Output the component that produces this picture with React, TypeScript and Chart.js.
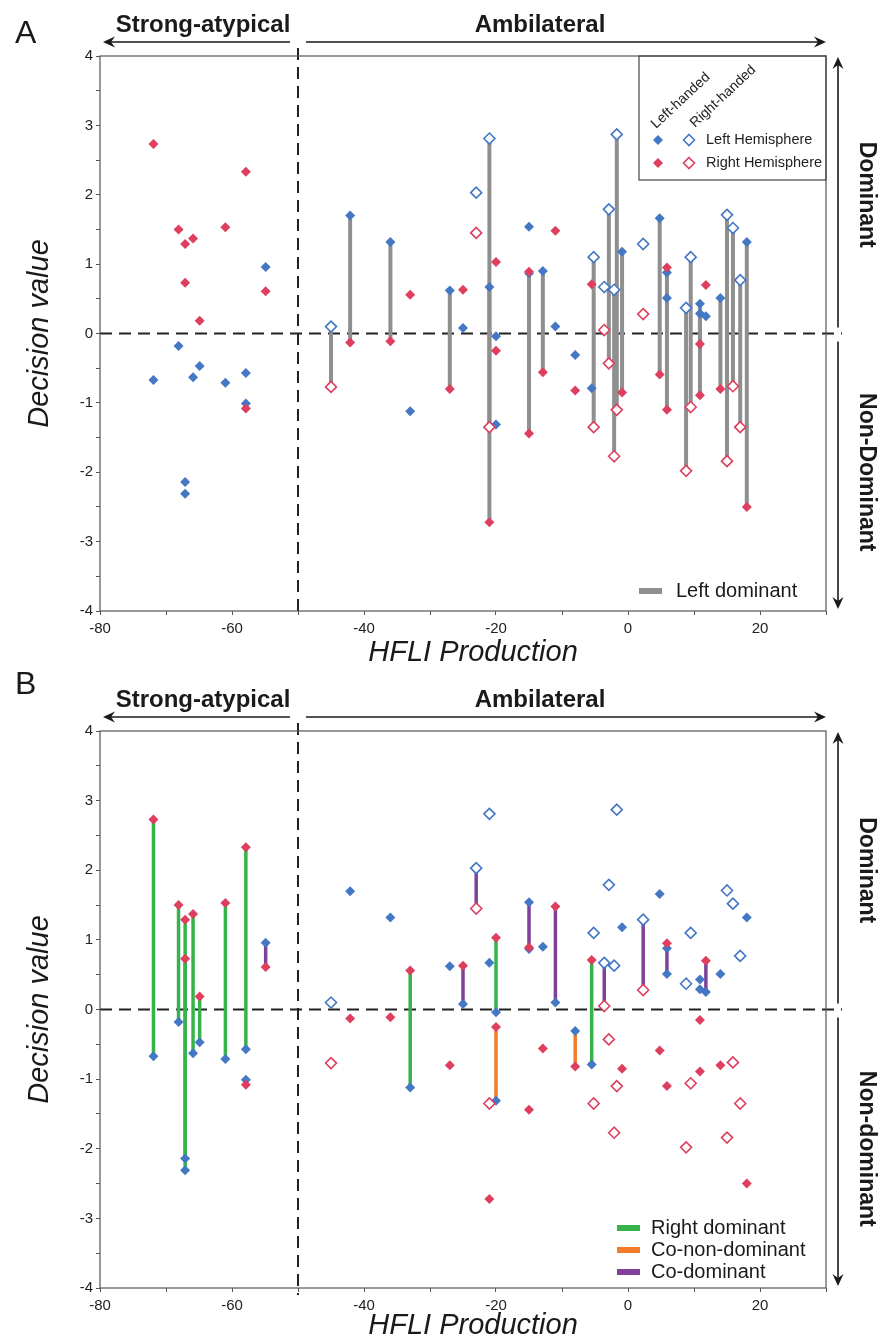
import React, { useEffect, useRef } from 'react';
import { Chart, registerables } from 'chart.js';

Chart.register(...registerables);

// ---- axis settings ----
const X_MIN = -80;
const X_MAX = 30;
const X_STEP = 10;
const X_LABEL_EVERY = 20;
const Y_MIN = -4;
const Y_MAX = 4;
const Y_STEP = 0.5;
const DIVIDE_X = -50;

// ---- left-handed subjects (filled markers): HFLI, left-hemisphere value, right-hemisphere value ----
const lhX = [-71.9, -68.1, -67.1, -67.1, -65.9, -64.9, -61.0, -57.9, -57.9, -54.9, -42.1, -36.0, -33.0, -27.0, -25.0, -21.0, -20.0, -20.0, -15.0, -15.0, -12.9, -11.0, -8.0, -5.5, -0.9, 4.8, 5.9, 5.9, 10.9, 10.9, 11.8, 14.0, 18.0];
const lhLeft = [-0.67, -0.18, -2.14, -2.31, -0.63, -0.47, -0.71, -0.57, -1.01, 0.96, 1.70, 1.32, -1.12, 0.62, 0.08, 0.67, -0.04, -1.31, 1.54, 0.87, 0.90, 0.10, -0.31, -0.79, 1.18, 1.66, 0.51, 0.88, 0.43, 0.29, 0.25, 0.51, 1.32];
const lhRight = [2.73, 1.50, 0.73, 1.29, 1.37, 0.185, 1.53, 2.33, -1.08, 0.61, -0.13, -0.11, 0.56, -0.80, 0.63, -2.72, 1.03, -0.25, 0.89, -1.44, -0.56, 1.48, -0.82, 0.71, -0.85, -0.59, 0.95, -1.10, -0.89, -0.15, 0.70, -0.80, -2.50];

// ---- right-handed subjects (open markers) ----
const rhX = [-45.0, -23.0, -21.0, -5.2, -3.6, -2.9, -2.1, -1.7, 2.3, 8.8, 9.5, 15.0, 15.9, 17.0];
const rhLeft = [0.10, 2.03, 2.81, 1.10, 0.67, 1.79, 0.63, 2.87, 1.29, 0.37, 1.10, 1.71, 1.52, 0.77];
const rhRight = [-0.77, 1.45, -1.35, -1.35, 0.05, -0.43, -1.77, -1.10, 0.28, -1.98, -1.06, -1.84, -0.76, -1.35];

const FONT = "'Liberation Sans', Arial, Helvetica, sans-serif";
const BLUE = '#4477c4';
const RED = '#de3f5f';
const GRAY = '#8f8f8f';
const GREEN = '#36b34a';
const ORANGE = '#f27b2c';
const PURPLE = '#7f4299';
const INK = '#1a1a1a';

type Cat = 'LD' | 'RD' | 'CD' | 'CND';
function classify(l: number, r: number): Cat {
  if (l > 0 && r < 0) return 'LD';
  if (l < 0 && r > 0) return 'RD';
  if (l > 0 && r > 0) return 'CD';
  return 'CND';
}

interface PanelCfg {
  letter: string;
  letterBaseline: number;
  height: number;
  top: number;
  bottom: number;
  lineColors: Partial<Record<Cat, string>>;
  lineWidth: number;
  upper: string;
  lower: string;
  titleBaseline: number;
  legend: 'A' | 'B';
}

const PANEL_A: PanelCfg = {
  letter: 'A', letterBaseline: 43, height: 670, top: 56, bottom: 611,
  lineColors: { LD: GRAY }, lineWidth: 4,
  upper: 'Dominant', lower: 'Non-Dominant', titleBaseline: 661, legend: 'A',
};
const PANEL_B: PanelCfg = {
  letter: 'B', letterBaseline: 24, height: 669, top: 61, bottom: 618,
  lineColors: { RD: GREEN, CND: ORANGE, CD: PURPLE }, lineWidth: 3.5,
  upper: 'Dominant', lower: 'Non-dominant', titleBaseline: 664, legend: 'B',
};

function arrow(ctx: CanvasRenderingContext2D, x1: number, y1: number, x2: number, y2: number) {
  const ang = Math.atan2(y2 - y1, x2 - x1);
  const L = 12, W = 5.5, N = 8;
  const c = Math.cos(ang), s = Math.sin(ang);
  ctx.beginPath();
  ctx.moveTo(x1, y1);
  ctx.lineTo(x2 - N * c, y2 - N * s);
  ctx.stroke();
  ctx.beginPath();
  ctx.moveTo(x2, y2);
  ctx.lineTo(x2 - L * c - W * s, y2 - L * s + W * c);
  ctx.lineTo(x2 - N * c, y2 - N * s);
  ctx.lineTo(x2 - L * c + W * s, y2 - L * s - W * c);
  ctx.closePath();
  ctx.fill();
}

function diamond(ctx: CanvasRenderingContext2D, x: number, y: number, r: number, color: string, open: boolean) {
  ctx.beginPath();
  ctx.moveTo(x, y - r);
  ctx.lineTo(x + r, y);
  ctx.lineTo(x, y + r);
  ctx.lineTo(x - r, y);
  ctx.closePath();
  if (open) {
    ctx.fillStyle = '#fff';
    ctx.fill();
    ctx.lineWidth = 1.6;
    ctx.strokeStyle = color;
    ctx.stroke();
  } else {
    ctx.fillStyle = color;
    ctx.fill();
  }
}

function decorPlugin(cfg: PanelCfg) {
  return {
    id: 'decor',
    beforeDatasetsDraw(chart: any) {
      const { ctx, chartArea: a, scales } = chart;
      const xd = scales.x.getPixelForValue(DIVIDE_X);
      const y0 = scales.y.getPixelForValue(0);
      ctx.save();
      ctx.strokeStyle = '#222';
      ctx.lineWidth = 2;
      ctx.setLineDash([12, 7]);
      ctx.beginPath();
      ctx.moveTo(a.left, y0);
      ctx.lineTo(a.right + 16, y0);
      ctx.stroke();
      ctx.beginPath();
      ctx.moveTo(xd, a.top - 8);
      ctx.lineTo(xd, a.bottom + 7);
      ctx.stroke();
      ctx.restore();
    },
    afterDraw(chart: any) {
      const { ctx, chartArea: a, scales } = chart;
      const xd = scales.x.getPixelForValue(DIVIDE_X);
      const y0 = scales.y.getPixelForValue(0);
      ctx.save();
      // plot frame
      ctx.strokeStyle = '#555';
      ctx.lineWidth = 1.2;
      ctx.strokeRect(a.left, a.top, a.right - a.left, a.bottom - a.top);

      // top arrows
      ctx.strokeStyle = INK;
      ctx.fillStyle = INK;
      ctx.lineWidth = 1.6;
      const ay = a.top - 14;
      arrow(ctx, xd - 8, ay, a.left + 3, ay);
      arrow(ctx, xd + 8, ay, a.right, ay);
      ctx.font = `bold 24px ${FONT}`;
      ctx.textAlign = 'center';
      ctx.textBaseline = 'alphabetic';
      ctx.fillText('Strong-atypical', (a.left + xd) / 2 + 4, a.top - 24);
      ctx.fillText('Ambilateral', 540, a.top - 24);

      // right arrows
      const rx = a.right + 12;
      arrow(ctx, rx, y0 - 6, rx, a.top + 1);
      arrow(ctx, rx, y0 + 8, rx, a.bottom - 2);
      ctx.font = `bold 23px ${FONT}`;
      const drawRot = (t: string, cy: number) => {
        ctx.save();
        ctx.translate(860, cy);
        ctx.rotate(Math.PI / 2);
        ctx.textAlign = 'center';
        ctx.textBaseline = 'alphabetic';
        ctx.fillText(t, 0, 0);
        ctx.restore();
      };
      drawRot(cfg.upper, (a.top + y0) / 2);
      drawRot(cfg.lower, (y0 + a.bottom) / 2);

      // panel letter
      ctx.font = `32px ${FONT}`;
      ctx.textAlign = 'left';
      ctx.fillText(cfg.letter, 15, cfg.letterBaseline);

      // axis titles
      ctx.font = `italic 29px ${FONT}`;
      ctx.textAlign = 'center';
      ctx.fillText('HFLI Production', 473, cfg.titleBaseline);
      ctx.save();
      ctx.translate(40, (a.top + a.bottom) / 2);
      ctx.rotate(-Math.PI / 2);
      ctx.textBaseline = 'middle';
      ctx.fillText('Decision value', 0, 0);
      ctx.restore();

      // legends
      if (cfg.legend === 'A') {
        ctx.strokeStyle = '#444';
        ctx.lineWidth = 1.2;
        ctx.strokeRect(639, a.top, a.right - 639, 180 - a.top);
        ctx.fillStyle = '#222';
        ctx.font = `14px ${FONT}`;
        ctx.textAlign = 'left';
        ctx.textBaseline = 'alphabetic';
        const rotLabel = (t: string, x: number, y: number) => {
          ctx.save();
          ctx.translate(x, y);
          ctx.rotate(-43 * Math.PI / 180);
          ctx.fillText(t, 0, 0);
          ctx.restore();
        };
        rotLabel('Left-handed', 656, 129);
        rotLabel('Right-handed', 695, 128);
        diamond(ctx, 658, 140, 5, BLUE, false);
        diamond(ctx, 689, 140, 5.5, BLUE, true);
        diamond(ctx, 658, 163, 5, RED, false);
        diamond(ctx, 689, 163, 5.5, RED, true);
        ctx.fillStyle = '#222';
        ctx.font = `14.5px ${FONT}`;
        ctx.textBaseline = 'middle';
        ctx.fillText('Left Hemisphere', 706, 140);
        ctx.fillText('Right Hemisphere', 706, 163);

        ctx.strokeStyle = GRAY;
        ctx.lineWidth = 6;
        ctx.beginPath();
        ctx.moveTo(639, 591);
        ctx.lineTo(662, 591);
        ctx.stroke();
        ctx.font = `20px ${FONT}`;
        ctx.fillStyle = INK;
        ctx.fillText('Left dominant', 676, 591);
      } else {
        const items: [string, string][] = [
          ['Right dominant', GREEN],
          ['Co-non-dominant', ORANGE],
          ['Co-dominant', PURPLE],
        ];
        ctx.font = `20px ${FONT}`;
        ctx.textAlign = 'left';
        ctx.textBaseline = 'middle';
        items.forEach(([t, c], i) => {
          const yy = 558 + i * 22;
          ctx.strokeStyle = c;
          ctx.lineWidth = 6;
          ctx.beginPath();
          ctx.moveTo(617, yy);
          ctx.lineTo(640, yy);
          ctx.stroke();
          ctx.fillStyle = INK;
          ctx.fillText(t, 651, yy);
        });
      }
      ctx.restore();
    },
  };
}

function buildConfig(cfg: PanelCfg): any {
  const lineSets: any[] = [];
  const addSegs = (xs: number[], ls: number[], rs: number[]) => {
    xs.forEach((x, i) => {
      const color = cfg.lineColors[classify(ls[i], rs[i])];
      if (!color) return;
      lineSets.push({
        data: [{ x, y: ls[i] }, { x, y: rs[i] }],
        showLine: true,
        borderColor: color,
        borderWidth: cfg.lineWidth,
        borderCapStyle: 'butt',
        pointRadius: 0,
        order: 10,
      });
    });
  };
  addSegs(lhX, lhLeft, lhRight);
  addSegs(rhX, rhLeft, rhRight);
  const pts = (xs: number[], ys: number[]) => xs.map((x, i) => ({ x, y: ys[i] }));
  const datasets = [
    ...lineSets,
    { label: 'LH left', data: pts(lhX, lhLeft), pointStyle: 'rectRot', pointRadius: 5, backgroundColor: BLUE, borderColor: BLUE, borderWidth: 0, order: 4 },
    { label: 'LH right', data: pts(lhX, lhRight), pointStyle: 'rectRot', pointRadius: 5, backgroundColor: RED, borderColor: RED, borderWidth: 0, order: 3 },
    { label: 'RH left', data: pts(rhX, rhLeft), pointStyle: 'rectRot', pointRadius: 5.5, backgroundColor: '#ffffff', borderColor: BLUE, borderWidth: 1.6, order: 2 },
    { label: 'RH right', data: pts(rhX, rhRight), pointStyle: 'rectRot', pointRadius: 5.5, backgroundColor: '#ffffff', borderColor: RED, borderWidth: 1.6, order: 1 },
  ];
  const tickFont = { family: FONT, size: 15 };
  const grid = { display: true, drawOnChartArea: false, drawTicks: true, tickLength: 4, color: '#555', lineWidth: 1 };
  return {
    type: 'scatter',
    data: { datasets },
    options: {
      animation: false,
      responsive: false,
      devicePixelRatio: 1,
      events: [],
      layout: { padding: { top: cfg.top, right: 880 - 826, left: 0, bottom: 0 } },
      plugins: { legend: { display: false }, tooltip: { enabled: false } },
      scales: {
        x: {
          type: 'linear', min: X_MIN, max: X_MAX,
          afterFit: (s: any) => { s.height = cfg.height - cfg.bottom; },
          ticks: {
            stepSize: X_STEP, autoSkip: false, maxRotation: 0, minRotation: 0, padding: 5,
            color: '#222', font: tickFont,
            callback: (v: number) => (v % X_LABEL_EVERY === 0 ? String(v) : ''),
          },
          grid, border: { display: false },
        },
        y: {
          type: 'linear', min: Y_MIN, max: Y_MAX,
          afterFit: (s: any) => { s.width = 100; },
          ticks: {
            stepSize: Y_STEP, autoSkip: false, padding: 3, color: '#222', font: tickFont,
            callback: (v: number) => (Number.isInteger(v) ? String(v) : ''),
          },
          grid, border: { display: false },
        },
      },
    },
    plugins: [decorPlugin(cfg)],
  };
}

function Panel({ cfg }: { cfg: PanelCfg }) {
  const ref = useRef<HTMLCanvasElement>(null);
  useEffect(() => {
    const chart = new Chart(ref.current as HTMLCanvasElement, buildConfig(cfg));
    return () => chart.destroy();
  }, [cfg]);
  return (
    <canvas
      ref={ref}
      width={880}
      height={cfg.height}
      style={{ display: 'block', width: 880, height: cfg.height }}
    />
  );
}

export default function App() {
  return (
    <div style={{ position: 'absolute', left: 0, top: 0, width: 880, height: 1339, background: '#fff' }}>
      <Panel cfg={PANEL_A} />
      <Panel cfg={PANEL_B} />
    </div>
  );
}
